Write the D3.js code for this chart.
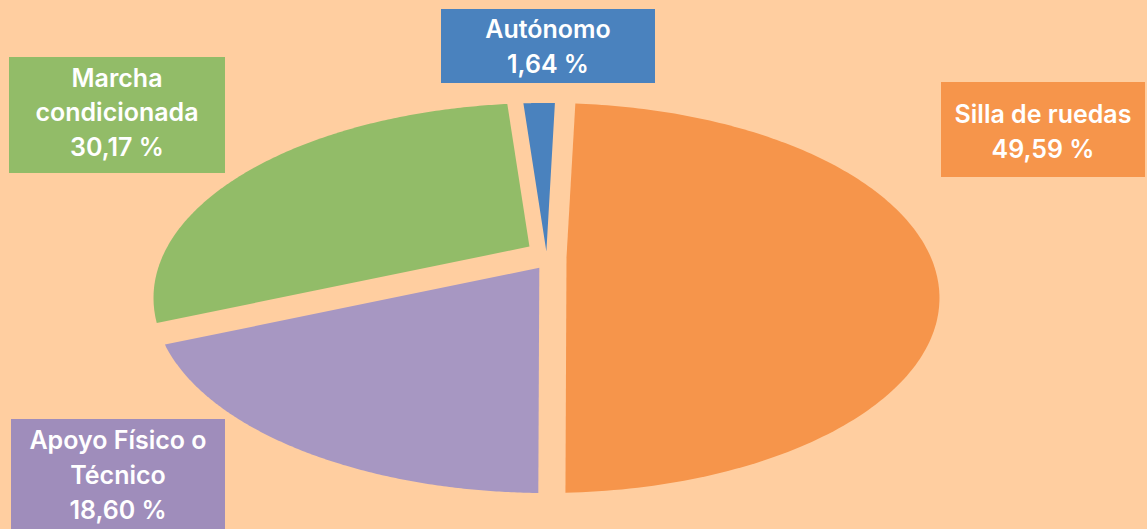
<!DOCTYPE html>
<html>
<head>
<meta charset="utf-8">
<script src="https://cdn.jsdelivr.net/npm/d3@7"></script>
<style>
  html, body { margin: 0; padding: 0; background: #FFCEA0; }
  svg { display: block; }
</style>
</head>
<body>
<svg id="chart" width="1147" height="529"></svg>
<script>
// ---- data ----
const categories = ["Silla de ruedas", "Apoyo Físico o Técnico", "Marcha condicionada", "Autónomo"];
const values = [49.59, 18.60, 30.17, 1.64];
const valueLabels = ["49,59 %", "18,60 %", "30,17 %", "1,64 %"];
const labelLines = [["Silla de ruedas"], ["Apoyo Físico o", "Técnico"], ["Marcha", "condicionada"], ["Autónomo"]];

// ---- style / layout ----
const sliceColors = ["#F6954B", "#A797C2", "#92BC68", "#4A82BE"];
const boxColors   = ["#F6954B", "#9F8DBB", "#92BC68", "#4A82BE"];
const explodePx = [20, 13, 20, 5.5];            // per-slice explosion in screen pixels
const boxes = [                                  // label boxes [x, y, w, h, first baseline offset]
  [941, 82, 204, 95, 41.3],
  [11, 419, 214, 115, 30.3],
  [9, 57, 216, 116, 29.7],
  [441, 9, 214, 74, 29]
];
const lineHeight = 34.7;

const W = 1147, H = 529;
const svg = d3.select("#chart");
svg.append("rect").attr("width", W).attr("height", H).attr("fill", "#FFCEA0");

// perspective-tilted pie: unit circle (u right, v far) -> screen
const P = { cx: 546.5, cy: 257, A: 384.2, B: 186.4, p: 0.2102 };
function project([u, v]) {
  const k = 1 + P.p * v;
  return [P.cx + P.A * u / k, P.cy - P.B * v / k];
}
function unproject([x, y]) {
  const xp = (x - P.cx) / P.A, yp = (P.cy - y) / P.B;
  const v = yp / (1 - P.p * yp);
  return [xp * (1 + P.p * v), v];
}

const rot = 1.6 * Math.PI / 180;
const pie = d3.pie().sort(null).value(d => d)
  .startAngle(rot).endAngle(rot + 2 * Math.PI);
const arcs = pie(values);
const C = project([0, 0]);

function slicePoints(d, i) {
  const a0 = d.startAngle, a1 = d.endAngle, m = (a0 + a1) / 2;
  const apexS = [C[0] + explodePx[i] * Math.sin(m), C[1] - explodePx[i] * Math.cos(m)];
  const a = unproject(apexS);
  function hit(theta) {
    const q = project([Math.sin(theta), Math.cos(theta)]);
    const bS = [apexS[0] + (q[0] - C[0]), apexS[1] + (q[1] - C[1])];
    const b = unproject(bS);
    let dx = b[0] - a[0], dy = b[1] - a[1];
    const n = Math.hypot(dx, dy); dx /= n; dy /= n;
    const bb = a[0] * dx + a[1] * dy;
    const c = a[0] * a[0] + a[1] * a[1] - 1;
    const t = -bb + Math.sqrt(bb * bb - c);
    return Math.atan2(a[0] + t * dx, a[1] + t * dy);
  }
  const t0 = hit(a0);
  let t1 = hit(a1);
  while (t1 < t0) t1 += 2 * Math.PI;
  const pts = [apexS];
  const N = 180;
  for (let k = 0; k <= N; k++) {
    const th = t0 + (t1 - t0) * k / N;
    pts.push(project([Math.sin(th), Math.cos(th)]));
  }
  return pts;
}

const line = d3.line();
svg.append("g").selectAll("path")
  .data(arcs)
  .join("path")
  .attr("d", (d, i) => line(slicePoints(d, i)) + "Z")
  .attr("fill", (d, i) => sliceColors[i]);

// ---- labels ----
const lg = svg.append("g");
categories.forEach((c, i) => {
  const [x, y, w, h, off] = boxes[i];
  lg.append("rect").attr("x", x).attr("y", y).attr("width", w).attr("height", h)
    .attr("fill", boxColors[i]);
  const lines = labelLines[i].concat([valueLabels[i]]);
  const t = lg.append("text")
    .attr("text-anchor", "middle")
    .attr("font-family", "Inter, 'Noto Sans', sans-serif")
    .attr("font-weight", 600)
    .attr("font-size", 25)
    .attr("fill", "#FFFFFF");
  lines.forEach((l, j) => {
    t.append("tspan").attr("x", x + w / 2).attr("y", y + off + j * lineHeight).text(l);
  });
});
</script>
</body>
</html>
